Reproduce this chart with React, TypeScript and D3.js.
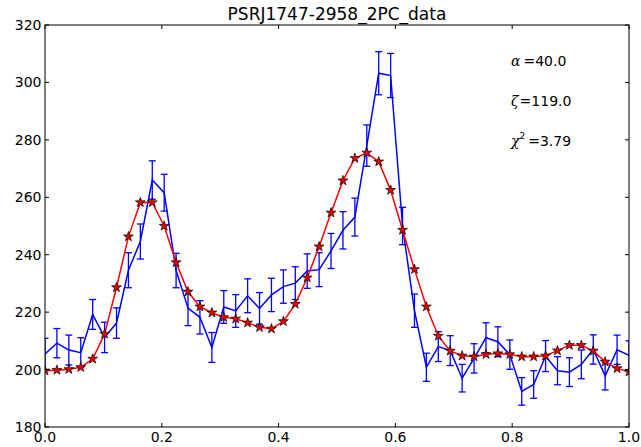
import React from "react";
import * as d3 from "d3";

const title = "PSRJ1747-2958_2PC_data";
const xTicks = [0.0, 0.2, 0.4, 0.6, 0.8, 1.0];
const yTicks = [180, 200, 220, 240, 260, 280, 300, 320];

// 50 phase bins, 0..1 inclusive
const nBins = 50;
const phase = d3.range(nBins).map((i) => i / (nBins - 1));

const dataValues = [
  205.4, 209.2, 206.8, 205.9, 219.2, 211.2, 216.2, 234.6, 244.6, 266.0,
  261.6, 234.5, 221.4, 218.2, 207.7, 221.8, 220.4, 225.7, 221.3, 226.0,
  228.9, 230.1, 234.3, 234.8, 241.3, 248.5, 253.1, 278.0, 303.2, 302.4,
  250.0, 220.5, 200.8, 208.0, 206.6, 197.0, 203.9, 211.1, 209.7, 205.2,
  192.4, 194.8, 204.7, 199.6, 199.1, 201.8, 207.0, 197.8, 206.9, 205.0,
];
const dataErrors = [
  5.5, 5.1, 5.2, 5.2, 5.2, 5.3, 5.3, 6.1, 6.1, 6.7,
  6.4, 6.0, 6.1, 5.8, 5.2, 5.7, 5.7, 5.9, 5.5, 5.8,
  5.8, 5.7, 6.0, 5.9, 6.1, 6.5, 6.6, 7.2, 7.5, 7.7,
  6.5, 5.8, 4.9, 5.2, 5.2, 4.8, 5.1, 5.2, 5.2, 5.1,
  4.8, 4.8, 5.4, 4.9, 5.0, 5.0, 5.1, 4.9, 5.1, 5.0,
];
const modelValues = [
  199.6, 199.8, 200.1, 200.8, 203.7, 212.4, 228.6, 246.3, 258.2, 258.2,
  250.0, 237.3, 227.1, 221.9, 219.8, 218.2, 217.7, 216.3, 214.7, 214.2,
  216.8, 222.8, 232.0, 242.8, 254.6, 265.8, 273.6, 275.5, 272.4, 262.5,
  248.6, 234.9, 221.9, 211.7, 206.5, 204.8, 204.5, 205.3, 205.6, 205.3,
  204.5, 204.5, 204.8, 206.6, 208.5, 208.5, 206.5, 202.7, 200.4, 199.2,
];

const W = 641;
const H = 447;
const M = { left: 45, right: 629, top: 25, bottom: 427 };

export default function App() {
  const x = d3.scaleLinear().domain([0, 1]).range([M.left, M.right]);
  const y = d3.scaleLinear().domain([180, 320]).range([M.bottom, M.top]);

  const blueLine = d3
    .line<number>()
    .x((_, i) => x(phase[i]))
    .y((d) => y(d))(dataValues) as string;
  const redLine = d3
    .line<number>()
    .x((_, i) => x(phase[i]))
    .y((d) => y(d))(modelValues) as string;
  const star = d3.symbol().type(d3.symbolStar).size(30)() as string;

  const font = "DejaVu Sans, sans-serif";
  const tickLen = 4;
  const cap = 3.5;

  return (
    <svg
      width={W}
      height={H}
      style={{ position: "absolute", left: 0, top: 0, background: "#fff" }}
    >
      <rect x={0} y={0} width={W} height={H} fill="#fff" />
      <defs>
        <clipPath id="plotclip">
          <rect x={M.left} y={M.top} width={M.right - M.left} height={M.bottom - M.top} />
        </clipPath>
      </defs>
      <g clipPath="url(#plotclip)">
        {dataValues.map((v, i) => {
          const cx = x(phase[i]);
          const y1 = y(v + dataErrors[i]);
          const y2 = y(v - dataErrors[i]);
          return (
            <g key={"e" + i} stroke="#0000ff" strokeWidth={1.3}>
              <line x1={cx} x2={cx} y1={y1} y2={y2} />
              <line x1={cx - cap} x2={cx + cap} y1={y1} y2={y1} />
              <line x1={cx - cap} x2={cx + cap} y1={y2} y2={y2} />
            </g>
          );
        })}
        <path d={blueLine} fill="none" stroke="#0000ff" strokeWidth={1.5} />
        <path d={redLine} fill="none" stroke="#ff0000" strokeWidth={1.5} />
        {modelValues.map((v, i) => (
          <path
            key={"s" + i}
            d={star}
            transform={`translate(${x(phase[i])},${y(v)})`}
            fill="#ee0000"
            stroke="#000"
            strokeWidth={0.7}
          />
        ))}
      </g>
      <rect
        x={M.left}
        y={M.top}
        width={M.right - M.left}
        height={M.bottom - M.top}
        fill="none"
        stroke="#000"
        strokeWidth={1}
      />
      {xTicks.map((t) => (
        <g key={"xt" + t}>
          <line x1={x(t)} x2={x(t)} y1={M.bottom} y2={M.bottom - tickLen} stroke="#000" />
          <line x1={x(t)} x2={x(t)} y1={M.top} y2={M.top + tickLen} stroke="#000" />
          <text
            x={x(t)}
            y={442}
            textAnchor="middle"
            fontFamily={font}
            fontSize={14}
            fill="#000"
          >
            {t.toFixed(1)}
          </text>
        </g>
      ))}
      {yTicks.map((t) => (
        <g key={"yt" + t}>
          <line x1={M.left} x2={M.left + tickLen} y1={y(t)} y2={y(t)} stroke="#000" />
          <line x1={M.right} x2={M.right - tickLen} y1={y(t)} y2={y(t)} stroke="#000" />
          <text
            x={41.5}
            y={y(t)}
            dy="0.36em"
            textAnchor="end"
            fontFamily={font}
            fontSize={14}
            fill="#000"
          >
            {t}
          </text>
        </g>
      ))}
      <text
        x={(M.left + M.right) / 2}
        y={20}
        textAnchor="middle"
        fontFamily={font}
        fontSize={17}
        fill="#000"
      >
        {title}
      </text>
      <text x={511} y={66} fontFamily={font} fontSize={14} fill="#000">
        <tspan fontFamily="DejaVu Serif" fontStyle="italic">α</tspan>
        <tspan dx={3}>=40.0</tspan>
      </text>
      <text x={511} y={106} fontFamily={font} fontSize={14} fill="#000">
        <tspan fontFamily="DejaVu Serif" fontStyle="italic">ζ</tspan>
        <tspan dx={1}>=119.0</tspan>
      </text>
      <text x={511} y={146} fontFamily={font} fontSize={14} fill="#000">
        <tspan fontFamily="DejaVu Serif" fontStyle="italic">χ</tspan>
        <tspan fontSize={9} dy={-7}>2</tspan>
        <tspan dy={7} dx={3}>=3.79</tspan>
      </text>
    </svg>
  );
}
